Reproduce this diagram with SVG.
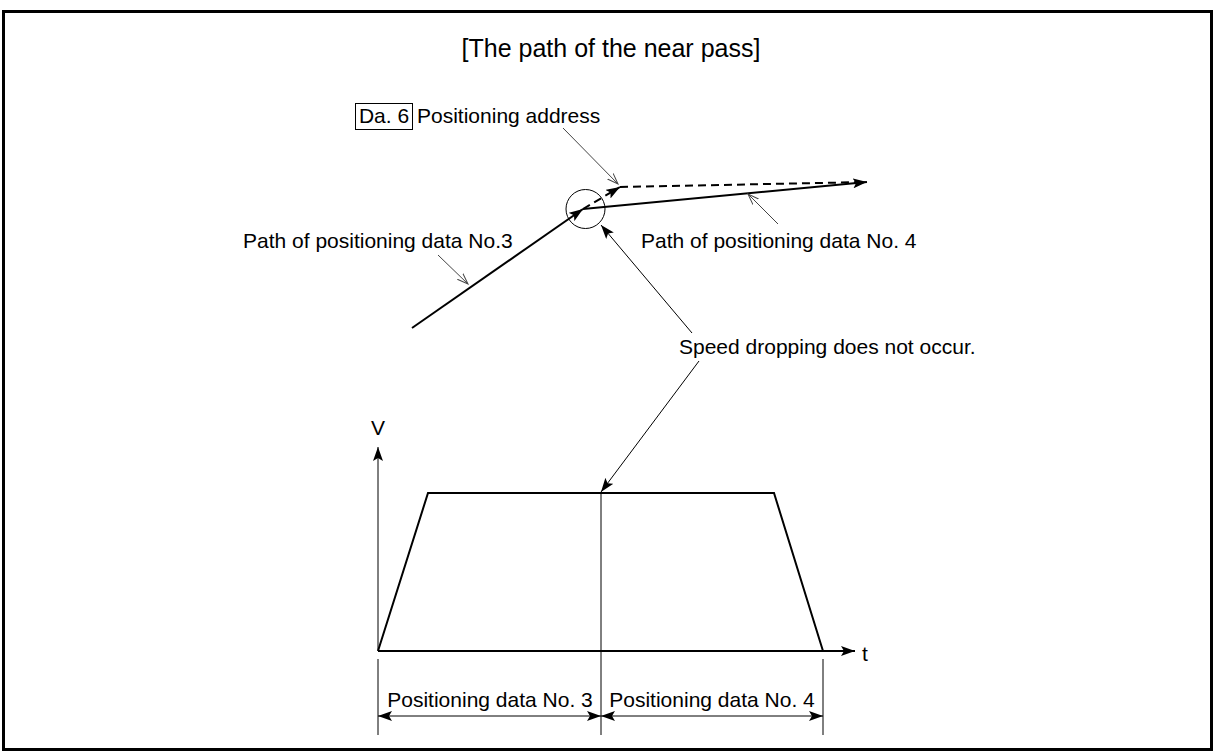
<svg xmlns="http://www.w3.org/2000/svg" width="1216" height="756" viewBox="0 0 1216 756">
<style>
text{font-family:"Liberation Sans",Arial,sans-serif;font-size:21px;fill:#000}
.title{font-size:25px}
.thick{stroke:#000;stroke-width:2;fill:none}
.thin{stroke:#000;stroke-width:1;fill:none}
.lead{stroke:#444;stroke-width:1;fill:none}
.dash{stroke:#000;stroke-width:2;fill:none;stroke-dasharray:8 5}
</style>
<defs>
<marker id="fa" markerUnits="userSpaceOnUse" markerWidth="16" markerHeight="10" refX="14" refY="5" orient="auto">
<path d="M0,0 L14,5 L0,10 L3,5 z" fill="#000"/>
</marker>
<marker id="fas" markerUnits="userSpaceOnUse" markerWidth="16" markerHeight="10" refX="14" refY="5" orient="auto-start-reverse">
<path d="M0,0 L14,5 L0,10 L3,5 z" fill="#000"/>
</marker>
<marker id="oa" markerUnits="userSpaceOnUse" markerWidth="14" markerHeight="10" refX="11" refY="5" orient="auto">
<path d="M0,1 L11,5 L0,9" fill="none" stroke="#444" stroke-width="1"/>
</marker>
</defs>
<rect x="3.5" y="11.5" width="1208" height="738" fill="#fff" stroke="#000" stroke-width="3"/>
<g id="title"><text class="title" x="611" y="57" text-anchor="middle">[The path of the near pass]</text></g>
<g id="address-label">
<rect x="355.5" y="103.5" width="57" height="26" fill="none" stroke="#000" stroke-width="1"/>
<text x="384" y="123" text-anchor="middle">Da. 6</text>
<text x="417" y="123">Positioning address</text>
</g>
<g id="path3-label"><text x="243" y="248">Path of positioning data No.3</text></g>
<g id="path4-label"><text x="641" y="248">Path of positioning data No. 4</text></g>
<g id="speed-label"><text x="679" y="354">Speed dropping does not occur.</text></g>
<g id="near-circle"><circle cx="585.5" cy="209" r="19.5" class="thin"/></g>
<g id="axes">
<text x="378" y="435" text-anchor="middle">V</text>
<text x="862" y="661">t</text>
</g>
<g id="dim-labels">
<text x="490" y="707" text-anchor="middle">Positioning data No. 3</text>
<text x="712" y="707" text-anchor="middle">Positioning data No. 4</text>
</g>
<g id="connectors">
<line x1="412" y1="328" x2="583" y2="209" class="thick" marker-end="url(#fa)"/>
<line x1="583" y1="209" x2="620" y2="187" class="dash" marker-end="url(#fa)"/>
<line x1="620" y1="187" x2="867" y2="182" class="dash"/>
<line x1="583" y1="209" x2="867" y2="182" class="thick" marker-end="url(#fa)"/>
<line x1="563" y1="128" x2="618" y2="184" class="lead" marker-end="url(#oa)"/>
<line x1="438" y1="255" x2="468" y2="284" class="lead" marker-end="url(#oa)"/>
<line x1="778" y1="224" x2="748" y2="194" class="lead" marker-end="url(#oa)"/>
<line x1="692" y1="333" x2="601" y2="225" class="thin" marker-end="url(#fa)"/>
<line x1="699" y1="361" x2="601" y2="492" class="thin" marker-end="url(#fa)"/>
<line x1="378" y1="651" x2="378" y2="447" class="thin" marker-end="url(#fa)"/>
<line x1="378" y1="651" x2="855" y2="651" class="thick" marker-end="url(#fa)"/>
<polyline points="378,651 428,493 774,493 823,651" class="thick"/>
<line x1="601" y1="493" x2="601" y2="735" class="thin"/>
<line x1="378" y1="659" x2="378" y2="735" class="thin"/>
<line x1="823" y1="659" x2="823" y2="735" class="thin"/>
<line x1="378" y1="716" x2="601" y2="716" class="thin" marker-start="url(#fas)" marker-end="url(#fa)"/>
<line x1="601" y1="716" x2="823" y2="716" class="thin" marker-start="url(#fas)" marker-end="url(#fa)"/>
</g>
</svg>
